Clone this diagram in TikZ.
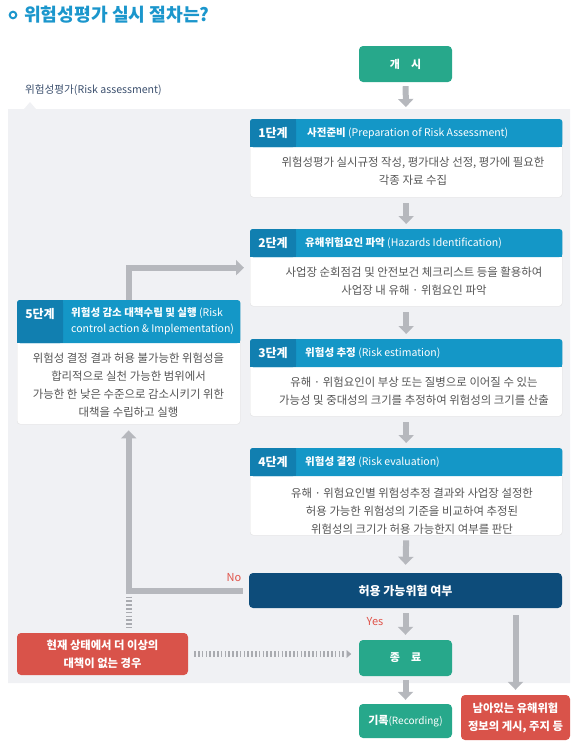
\documentclass[tikz,border=0pt]{standalone}
\usepackage{fontspec}
\setmainfont{Noto Sans CJK KR}
\usetikzlibrary{arrows.meta}
\definecolor{bggray}{HTML}{F0F1F4}
\definecolor{arrowgray}{HTML}{B6B8BD}
\definecolor{dashgray}{HTML}{A9ABB0}
\definecolor{tealc}{HTML}{27A88B}
\definecolor{headblue}{HTML}{1497C7}
\definecolor{tabblue}{HTML}{117FB0}
\definecolor{decblue}{HTML}{0D4C7A}
\definecolor{redc}{HTML}{D9534A}
\definecolor{titleblue}{HTML}{1B96CC}
\definecolor{labeldark}{HTML}{3C506E}
\definecolor{bodygray}{HTML}{555555}
\definecolor{ynred}{HTML}{E0544A}
\newcommand\mkstep[7]{%
  \node[stepbody, minimum width=#4pt, minimum height=#5pt, anchor=north west] (#1) at (#2,#3) {};
  \fill[headblue, rounded corners=3pt] (#1.north west) rectangle ([yshift=-#6pt]#1.north east);
  \fill[headblue] ([yshift=-5pt]#1.north west) rectangle ([yshift=-#6pt]#1.north east);
  \fill[tabblue, rounded corners=3pt] (#1.north west) rectangle ([xshift=46pt,yshift=-#6pt]#1.north west);
  \fill[tabblue] ([xshift=5pt]#1.north west) rectangle ([xshift=46pt,yshift=-#6pt]#1.north west);
  \fill[tabblue] ([yshift=-5pt]#1.north west) rectangle ([xshift=46pt,yshift=-#6pt]#1.north west);
  \node[tabtext] (#1n) at ([xshift=23pt,yshift=-14pt]#1.north west) {#7};
}
\begin{document}
\begin{tikzpicture}[x=1pt,y=-1pt,
  stepbody/.style={draw=black!12, fill=white, rounded corners=3pt, inner sep=0pt},
  tabtext/.style={text=white, font=\fontsize{12}{13}\selectfont\bfseries, inner sep=0pt},
  headtext/.style={text=white, font=\fontsize{10.5}{16}\selectfont, inner sep=0pt, anchor=west, align=left},
  bodytext/.style={text=bodygray, font=\fontsize{11.4}{18}\selectfont, align=center, inner sep=0pt},
  tealbox/.style={fill=tealc, rounded corners=4pt, text=white, font=\fontsize{11}{14}\selectfont\bfseries, inner sep=0pt},
  redbox/.style={fill=redc, rounded corners=4pt, text=white, font=\fontsize{11.3}{18}\selectfont\bfseries, align=center, inner sep=0pt},
  decbox/.style={fill=decblue, rounded corners=4pt, text=white, font=\fontsize{12}{14}\selectfont\bfseries, inner sep=0pt},
  garrow/.style={draw=arrowgray, line width=6pt, -{Triangle[length=8pt,width=15pt]}},
  gdash/.style={draw=dashgray, line width=6pt, dash pattern=on 1.6pt off 2.2pt},
  ynlabel/.style={text=ynred, font=\fontsize{11}{12}\selectfont, inner sep=0pt}
]
\useasboundingbox (0,0) rectangle (580,745);
% title
\draw[titleblue, line width=2pt] (13,15) circle (3.3pt);
\node[anchor=west, text=titleblue, font=\fontsize{18.2}{21}\selectfont\bfseries, inner sep=0pt] (title) at (24,15) {위험성평가 실시 절차는?};
\node[anchor=west, text=labeldark, font=\fontsize{10.6}{12}\selectfont, inner sep=0pt] (ralabel) at (25,90) {위험성평가(Risk assessment)};
% background panel
\fill[bggray] (8,109) -- (24,109) -- (30,102) -- (36,109) -- (570,109) -- (570,683) -- (8,683) -- cycle;

% start
\node[tealbox, minimum width=93pt, minimum height=36pt] (start) at (405.5,64) {개\hspace{1em}시};

% steps
\mkstep{s1}{250}{119}{312}{78}{28}{1단계}
\node[headtext] (s1t) at (307,133) {\textbf{사전준비} (Preparation of Risk Assessment)};
\node[bodytext] (s1b) at (413,171) {위험성평가 실시규정 작성, 평가대상 선정, 평가에 필요한\\각종 자료 수집};

\mkstep{s2}{250}{229}{312}{77}{28}{2단계}
\node[headtext] (s2t) at (305,243) {\textbf{유해위험요인 파악} (Hazards Identification)};
\node[bodytext] (s2b) at (414,281) {사업장 순회점검 및 안전보건 체크리스트 등을 활용하여\\사업장 내 유해 · 위험요인 파악};

\mkstep{s3}{250}{339}{312}{77}{28}{3단계}
\node[headtext] (s3t) at (305,353) {\textbf{위험성 추정} (Risk estimation)};
\node[bodytext] (s3b) at (414,391.5) {유해 · 위험요인이 부상 또는 질병으로 이어질 수 있는\\가능성 및 중대성의 크기를 추정하여 위험성의 크기를 산출};

\mkstep{s4}{250}{448}{312}{87}{28}{4단계}
\node[headtext] (s4t) at (305,462) {\textbf{위험성 결정} (Risk evaluation)};
\node[bodytext] (s4b) at (412,511) {유해 · 위험요인별 위험성추정 결과와 사업장 설정한\\허용 가능한 위험성의 기준을 비교하여 추정된\\위험성의 크기가 허용 가능한지 여부를 판단};

\mkstep{s5}{17}{300}{223}{124}{43}{5단계}
\node[headtext, anchor=north west] (s5t) at (71,307) {\textbf{위험성 감소 대책수립 및 실행} (Risk\\control action \& Implementation)};
\node[bodytext] (s5b) at (128.5,385) {위험성 결정 결과 허용 불가능한 위험성을\\합리적으로 실천 가능한 범위에서\\가능한 한 낮은 수준으로 감소시키기 위한\\대책을 수립하고 실행};

% decision and end boxes
\node[decbox, minimum width=313pt, minimum height=35pt] (dec) at (405.5,590.5) {허용 가능위험 여부};
\node[tealbox, minimum width=93pt, minimum height=36pt] (fin) at (405.5,658) {종\hspace{1em}료};
\node[tealbox, minimum width=93pt, minimum height=34pt] (rec) at (405.5,721) {기록{\mdseries\fontsize{10}{12}\selectfont(Recording)}};
\node[redbox, minimum width=171pt, minimum height=42pt] (red1) at (102.5,654) {현재 상태에서 더 이상의\\대책이 없는 경우};
\node[redbox, minimum width=109pt, minimum height=45pt] (red2) at (515.5,717.5) {남아있는 유해위험\\정보의 게시, 주지 등};

% down arrows
\draw[garrow, shorten <=4pt, shorten >=12pt] (start.south) -- (s1.north);
\draw[garrow, shorten <=6pt, shorten >=5pt] (s1.south) -- (s2.north);
\draw[garrow, shorten <=6pt, shorten >=5pt] (s2.south) -- (s3.north);
\draw[garrow, shorten <=6pt, shorten >=5pt] (s3.south) -- (s4.north);
\draw[garrow, shorten <=5pt, shorten >=8pt] (s4.south) -- (dec.north);
\draw[garrow, shorten <=5pt, shorten >=5pt] (dec.south) -- (fin.north);
\draw[garrow, shorten <=4pt, shorten >=4pt] (fin.south) -- (rec.north);
\draw[garrow, shorten <=7pt, shorten >=5pt] (red2.north |- dec.south) -- (red2.north);

% loops
\draw[garrow, shorten >=6pt] (s5.north) |- (s2.west);
\draw[garrow, shorten <=6pt, shorten >=6pt] (dec.west) -| (s5.south);
\draw[gdash] ([yshift=-6pt]s5.south |- dec.west) -- ([yshift=5pt]s5.south |- red1.north);
\draw[gdash, shorten <=6pt, shorten >=14pt] (red1.east) -- (red1.east -| fin.west);
\draw[draw=dashgray, fill=dashgray] ([xshift=-12pt,yshift=3.5pt]red1.east -| fin.west) -- ([xshift=-8pt]red1.east -| fin.west) -- ([xshift=-12pt,yshift=-3.5pt]red1.east -| fin.west) -- cycle;

% labels
\node[ynlabel] (no) at (234,578) {No};
\node[ynlabel] (yes) at (375,622) {Yes};
\end{tikzpicture}
\end{document}
